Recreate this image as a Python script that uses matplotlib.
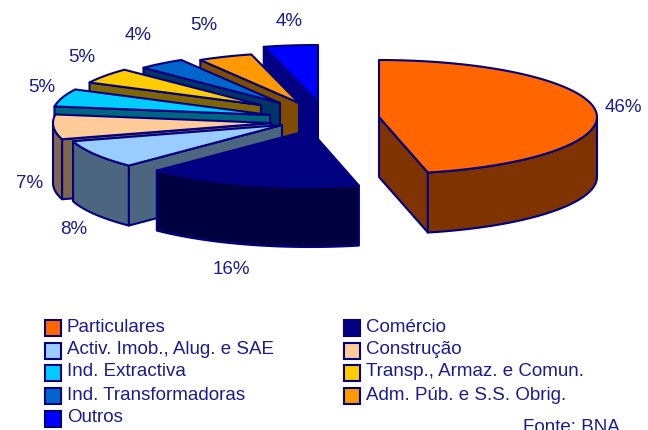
import numpy as np
import matplotlib
matplotlib.use("Agg")
import matplotlib.pyplot as plt
from matplotlib.patches import Polygon, Rectangle

plt.rcParams['font.family'] = ['Liberation Sans', 'DejaVu Sans']

# dados
categorias = ["Particulares", "Comércio", "Activ. Imob., Alug. e SAE", "Construção",
              "Ind. Extractiva", "Transp., Armaz. e Comun.", "Ind. Transformadoras",
              "Adm. Púb. e S.S. Obrig.", "Outros"]
valores = [46.4, 16, 8, 7, 5, 5, 4, 4.6, 4]
cores = ["#FF6600", "#000080", "#99CCFF", "#FFCC99", "#00CCFF",
         "#FFCC00", "#0066CC", "#FF9900", "#0000FF"]
lados = ["#7F3300", "#000040", "#4D6680", "#80664D", "#006680",
         "#806600", "#003366", "#804D00", "#000080"]

# aspecto da tarte (pixels)
CX, CY = 325, 115
RX, RY = 218, 57
ALTURA = 60
explode_x = [54, -15, -43, -54, -55, -64, -45, -26, -7]
explode_y = [2, 15, 10, 8, 0, -10, -12, -12, -13]
escala = [1, 1, 1, 1, 1, 0.88, 0.88, 0.88, 1]

AZUL = "#000080"
TEXTO = "#1C1C8C"
LW = 1.5


def face(pontos, cor):
    ax.add_patch(Polygon(pontos, closed=True, facecolor=cor, edgecolor=AZUL, lw=LW, joinstyle="round"))


fig = plt.figure(figsize=(6.48, 4.30), dpi=100)
ax = fig.add_axes([0, 0, 1, 1])
ax.set_xlim(0, 648)
ax.set_ylim(430, 0)
ax.axis("off")

# fatias, de tras para a frente
limites = np.cumsum([0] + valores) / sum(valores) * 2 * np.pi
for i in [8, 7, 6, 5, 4, 3, 2, 1, 0]:
    t = np.linspace(limites[i], limites[i + 1], 60)
    px = CX + explode_x[i]
    py = CY + explode_y[i]
    x = px + escala[i] * RX * np.sin(t)
    y = py - escala[i] * RY * np.cos(t)

    # faces de corte: so as viradas para quem ve
    if np.sin(t[0]) < -1e-6:
        face([(px, py), (x[0], y[0]), (x[0], y[0] + ALTURA), (px, py + ALTURA)], lados[i])
    if np.sin(t[-1]) > 1e-6:
        face([(px, py), (x[-1], y[-1]), (x[-1], y[-1] + ALTURA), (px, py + ALTURA)], lados[i])

    # parede exterior, metade da frente
    frente = np.cos(t) < 0
    if frente.sum() > 1:
        xf, yf = x[frente], y[frente]
        face(np.column_stack([np.r_[xf, xf[::-1]], np.r_[yf, yf[::-1] + ALTURA]]), lados[i])

    # topo
    face(np.column_stack([np.r_[px, x], np.r_[py, y]]), cores[i])

# percentagens
pos_rotulos = [(623, 107), (231, 270), (74, 230), (30, 183), (42, 88),
               (82, 58), (138, 35), (204, 26), (289, 21)]
for v, (lx, ly) in zip(valores, pos_rotulos):
    ax.text(lx, ly, f"{v:.0f}%", ha="center", va="center", fontsize=13.5, color=TEXTO)

# legenda
leg_x = [45, 45, 45, 45, 45, 344, 344, 344, 344]
leg_y = [328, 351, 373, 396, 419, 328, 351, 373, 396]
leg_ordem = [0, 2, 4, 6, 8, 1, 3, 5, 7]
for lx, ly, i in zip(leg_x, leg_y, leg_ordem):
    ax.add_patch(Rectangle((lx, ly - 8), 16, 16, facecolor=cores[i], edgecolor=AZUL, lw=1.5))
    ax.text(lx + 22, ly - 1, categorias[i], ha="left", va="center", fontsize=13.5, color=TEXTO)

ax.text(523, 427, "Fonte: BNA", ha="left", va="center", fontsize=13.5, color=TEXTO)

fig.savefig("out.png", dpi=100)
